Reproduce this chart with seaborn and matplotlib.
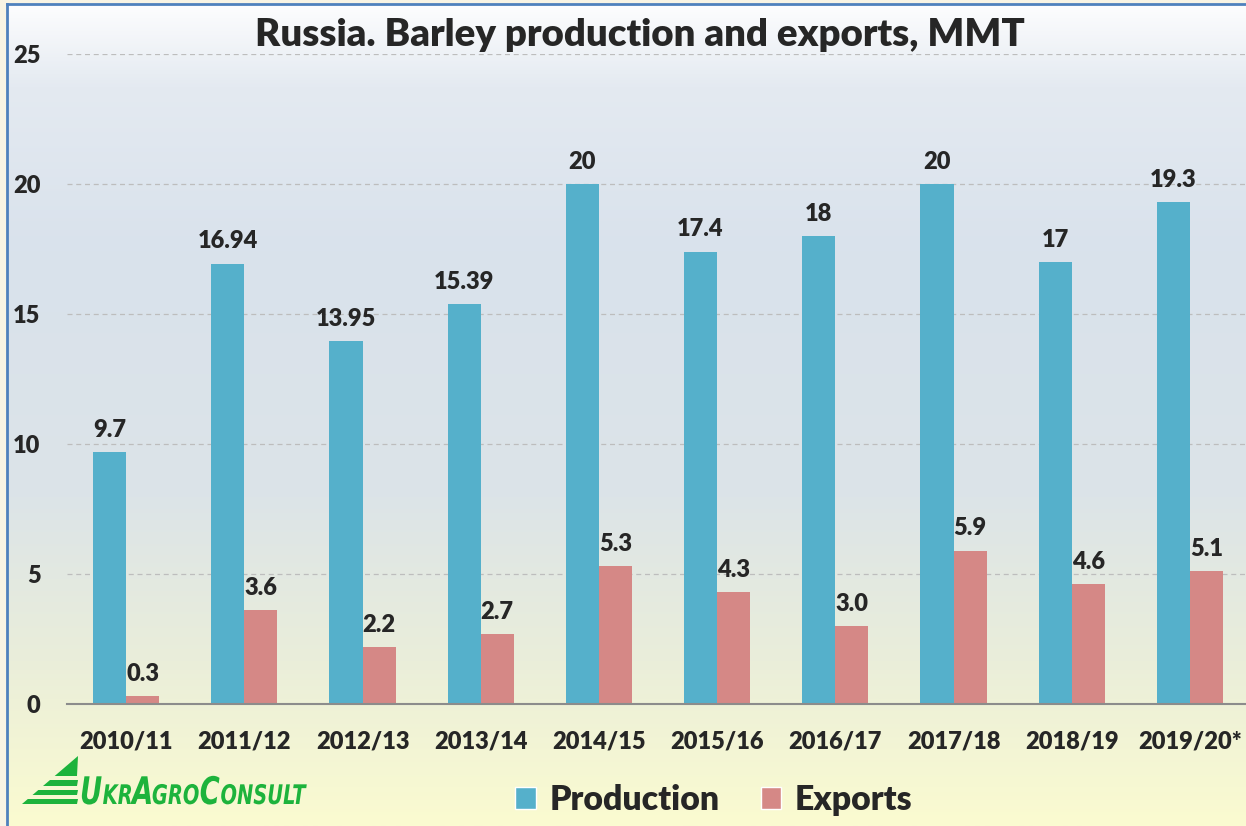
import matplotlib
matplotlib.use("Agg")
import matplotlib.pyplot as plt
from matplotlib.patches import Patch, Polygon, PathPatch
from matplotlib.textpath import TextPath
from matplotlib.font_manager import FontProperties
from matplotlib.transforms import Affine2D, IdentityTransform
import seaborn as sns
import pandas as pd
import numpy as np

# data
years = ["2010/11", "2011/12", "2012/13", "2013/14", "2014/15",
         "2015/16", "2016/17", "2017/18", "2018/19", "2019/20*"]
production = [9.7, 16.94, 13.95, 15.39, 20, 17.4, 18, 20, 17, 19.3]
exports = [0.3, 3.6, 2.2, 2.7, 5.3, 4.3, 3.0, 5.9, 4.6, 5.1]
prod_labels = ["9.7", "16.94", "13.95", "15.39", "20", "17.4", "18", "20", "17", "19.3"]
exp_labels = ["0.3", "3.6", "2.2", "2.7", "5.3", "4.3", "3.0", "5.9", "4.6", "5.1"]
series = ["Production", "Exports"]
colors = ["#55B0CB", "#D58886"]

df = pd.DataFrame({
    "year": years * 2,
    "value": production + exports,
    "series": [series[0]] * len(years) + [series[1]] * len(years),
})

sns.set_style("white")
plt.rcParams["font.family"] = ["Lato", "DejaVu Sans"]
BOLD = "heavy"

W, H = 1246, 826
fig = plt.figure(figsize=(W / 100, H / 100), dpi=100)
fig.patch.set_facecolor("#F8F4E4")

# gradient background with blue frame on left/top
bg = fig.add_axes([7 / W, 0, 1, 1 - 4 / H])
stops = [0.0, 0.1, 0.3, 0.6, 0.8, 1.0]
cols = np.array([[253, 253, 254], [228, 234, 241], [217, 226, 236],
                 [220, 228, 232], [234, 238, 218], [251, 251, 208]]) / 255
t = np.linspace(0, 1, 400)
grad = np.stack([np.interp(t, stops, cols[:, i]) for i in range(3)], axis=1)
bg.imshow(grad[:, None, :], aspect="auto", extent=[0, 1, 0, 1])
bg.set_xticks([])
bg.set_yticks([])
for s in ["right", "bottom"]:
    bg.spines[s].set_visible(False)
for s in ["left", "top"]:
    bg.spines[s].set_color("#4F81BD")
    bg.spines[s].set_linewidth(2)

ax = fig.add_axes([67 / W, 122 / H, 1182 / W, 650 / H])
ax.patch.set_alpha(0)
sns.barplot(data=df, x="year", y="value", hue="series", palette=colors,
            width=0.56, gap=0, saturation=1, legend=False, linewidth=0, ax=ax)

for cont, labs in zip(ax.containers, [prod_labels, exp_labels]):
    ax.bar_label(cont, labels=labs, padding=8, fontsize=17, fontweight=BOLD)

ax.set_ylim(0, 25)
ax.set_xlim(-0.5, len(years) - 0.5)
ax.set_yticks([0, 5, 10, 15, 20, 25])
ax.set_xlabel("")
ax.set_ylabel("")
ax.yaxis.grid(True, ls=(0, (4, 3)), color="#BDBDBD", lw=0.9)
ax.set_axisbelow(True)
for s in ["left", "right", "top"]:
    ax.spines[s].set_visible(False)
ax.spines["bottom"].set_color("#8C8C8C")
ax.spines["bottom"].set_linewidth(1.5)
ax.tick_params(axis="y", length=0, pad=19, labelsize=17)
ax.tick_params(axis="x", length=0, pad=19, labelsize=17)
for lab in ax.get_xticklabels() + ax.get_yticklabels():
    lab.set_fontweight(BOLD)

fig.text(640 / W, 1 - 35 / H, "Russia. Barley production and exports, MMT",
         ha="center", va="center", fontsize=27.6, fontweight=BOLD)

handles = [Patch(facecolor=c, label=l) for c, l in zip(colors, series)]
fig.legend(handles=handles, loc="center", bbox_to_anchor=(714 / W, 1 - 800 / H),
           ncol=2, frameon=False, prop={"size": 24.3, "weight": BOLD},
           handlelength=0.62, handleheight=0.62, handletextpad=0.4, columnspacing=1.2)

# logo
green = "#1DB33C"
def px(x, y):
    return (x / W, 1 - y / H)
apex_y, base_y, left_x, right_x = 756, 804, 22, 78
bands = [(756, 776), (780, 786), (790, 795), (799, 804)]
for y0, y1 in bands:
    def lx(y):
        return right_x - (right_x - left_x) * (y - apex_y) / (base_y - apex_y)
    pts = [px(lx(y0), y0), px(right_x, y0), px(right_x - 1, y1), px(lx(y1), y1)]
    fig.add_artist(Polygon(pts, closed=True, transform=fig.transFigure,
                           facecolor=green, edgecolor="none"))

fp = FontProperties(family="DejaVu Sans", weight="bold", style="oblique")
x = 80.0
base = H - 804
for s, size in [("U", 38), ("KR", 27), ("A", 38), ("GRO", 27), ("C", 38), ("ONSULT", 27)]:
    tp = TextPath((0, 0), s, size=size, prop=fp)
    tp = Affine2D().scale(0.72, 1).translate(x, base).transform_path(tp)
    fig.add_artist(PathPatch(tp, transform=IdentityTransform(), facecolor=green,
                             edgecolor="none"))
    x = tp.get_extents().x1 + 1

fig.savefig("out.png", dpi=100)
